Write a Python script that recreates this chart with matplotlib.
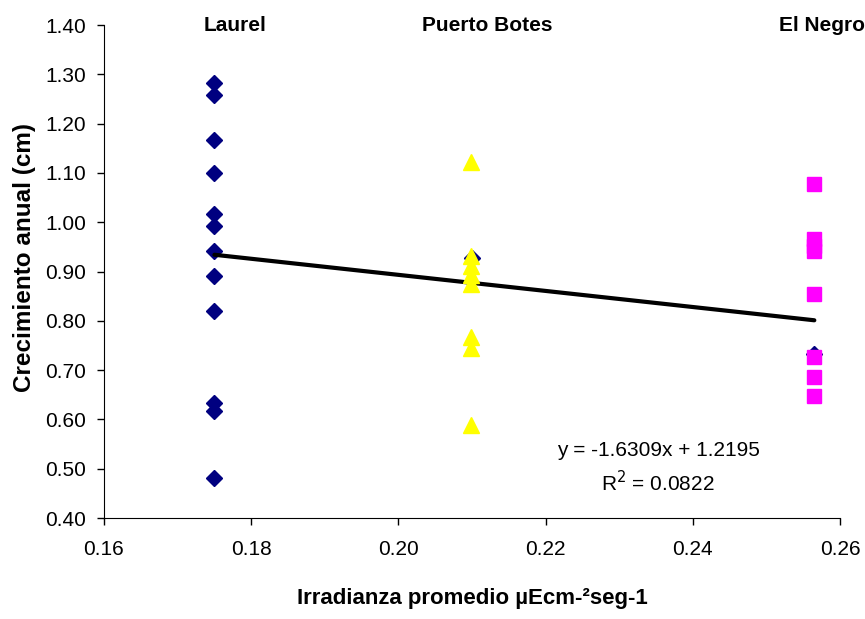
import matplotlib
matplotlib.use("Agg")
import matplotlib.pyplot as plt
import numpy as np

plt.rcParams['font.family'] = ['Liberation Sans', 'DejaVu Sans']

# Data
laurel_x = 0.175
laurel_y = [1.283, 1.258, 1.167, 1.099, 1.017, 0.993, 0.942, 0.891, 0.821, 0.633, 0.617, 0.482]
hidden_x = [0.2100, 0.2565]
hidden_y = [0.927, 0.733]
botes_x = 0.2098
botes_y = [1.123, 0.932, 0.911, 0.893, 0.874, 0.768, 0.745, 0.588]
negro_x = 0.2565
negro_y = [1.078, 0.966, 0.951, 0.942, 0.854, 0.726, 0.686, 0.647]
slope, intercept = -1.6309, 1.2195
trend_x = [0.175, 0.2565]
site_names = ["Laurel", "Puerto Botes", "El Negro"]
site_label_x = [0.1778, 0.2120, 0.2575]

fig = plt.figure(figsize=(8.65, 6.19), dpi=100)
ax = fig.add_axes([0.1202, 0.163, 0.851, 0.7966])

ax.plot([laurel_x] * len(laurel_y), laurel_y, linestyle='none', marker='D',
        markersize=8, color='#000080', zorder=3)
ax.plot(hidden_x, hidden_y, linestyle='none', marker='D',
        markersize=8, color='#000080', zorder=3)
tx = np.array(trend_x)
ax.plot(tx, slope * tx + intercept, color='black', linewidth=3, zorder=4,
        solid_capstyle='round')
ax.plot([botes_x] * len(botes_y), botes_y, linestyle='none', marker='^',
        markersize=11, color='#FFFF00', zorder=5)
ax.plot([negro_x] * len(negro_y), negro_y, linestyle='none', marker='s',
        markersize=10.5, color='#FF00FF', zorder=5)

ax.set_xlim(0.16, 0.26)
ax.set_ylim(0.40, 1.40)
ax.set_xticks(np.arange(0.16, 0.2601, 0.02))
ax.set_yticks(np.arange(0.40, 1.4001, 0.10))
ax.xaxis.set_major_formatter(matplotlib.ticker.FormatStrFormatter('%.2f'))
ax.yaxis.set_major_formatter(matplotlib.ticker.FormatStrFormatter('%.2f'))
ax.tick_params(axis='both', direction='out', length=5, width=1, labelsize=15,
               colors='black')
ax.tick_params(axis='x', pad=11)
ax.tick_params(axis='y', pad=8)
ax.spines['top'].set_visible(False)
ax.spines['right'].set_visible(False)

for name, x in zip(site_names, site_label_x):
    ax.text(x, 1.398, name, ha='center', va='center', fontsize=15,
            fontweight='bold', clip_on=False)

ax.text(0.2353, 0.537, "y = -1.6309x + 1.2195", ha='center', va='center', fontsize=15)
ax.text(0.2353, 0.472, "R$^{2}$ = 0.0822", ha='center', va='center', fontsize=15)

ax.set_xlabel("Irradianza promedio µEcm-²seg-1", fontsize=16, fontweight='bold')
ax.xaxis.set_label_coords(0.5, -0.142)
ax.xaxis.label.set_verticalalignment('top')
ax.set_ylabel("Crecimiento anual (cm)", fontsize=17.5, fontweight='bold')
ax.yaxis.set_label_coords(-0.093, 0.529)

fig.savefig("out.png", dpi=100)
